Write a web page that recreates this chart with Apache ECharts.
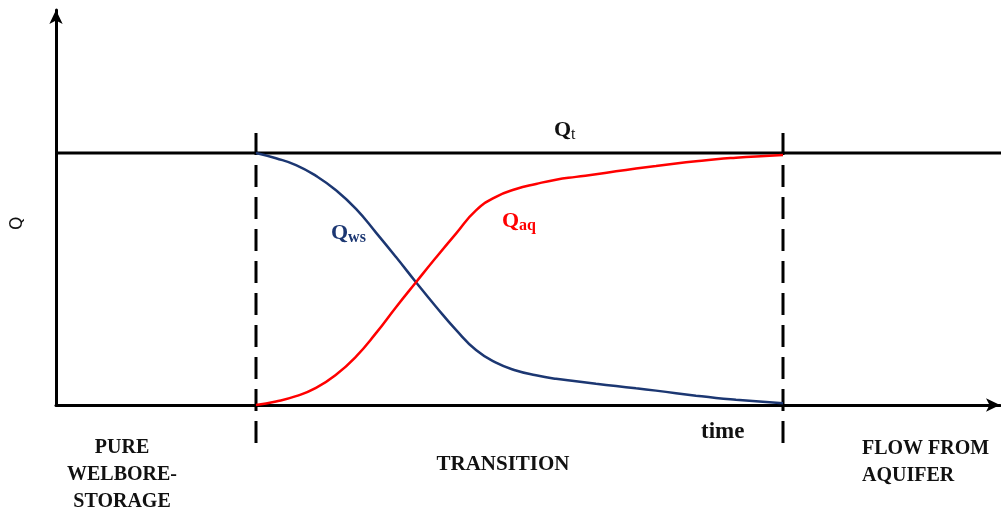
<!DOCTYPE html>
<html>
<head>
<meta charset="utf-8">
<script src="https://cdn.jsdelivr.net/npm/echarts@6/dist/echarts.min.js"></script>
<style>
  html, body { margin: 0; padding: 0; background: #fff; }
  #chart { width: 1001px; height: 510px; }
</style>
</head>
<body>
<div id="chart"></div>
<script>
// sample times across the transition (arbitrary units)
const times = [2.0, 2.2, 2.4, 2.6, 2.8, 3.0, 3.2, 3.4, 3.6, 3.8, 4.0, 4.2, 4.4, 4.6, 4.8, 5.0, 5.2, 5.4, 5.6, 5.8, 6.0, 6.2, 6.4, 6.6, 6.8, 7.0, 7.27]
// welbore-storage rate, falls from Qt to 0
const qws = [1.0, 0.979, 0.952, 0.909, 0.852, 0.778, 0.684, 0.587, 0.487, 0.39, 0.298, 0.218, 0.168, 0.137, 0.118, 0.104, 0.094, 0.084, 0.075, 0.066, 0.057, 0.047, 0.037, 0.028, 0.021, 0.015, 0.007]
// aquifer rate, rises from 0 to Qt
const qaq = [0.0, 0.014, 0.035, 0.068, 0.12, 0.192, 0.285, 0.388, 0.487, 0.585, 0.68, 0.772, 0.826, 0.857, 0.877, 0.894, 0.905, 0.915, 0.927, 0.938, 0.948, 0.958, 0.967, 0.975, 0.981, 0.986, 0.992]
// total rate and the two period boundaries
const qtLine = [[0, 1], [9.45, 1]]
const boundaries = [2.0, 7.27]
const dashRange = [-0.151, 1.119]

const SERIF = '"Liberation Serif", "DejaVu Serif", serif'

const chart = echarts.init(document.getElementById('chart'))

const pair = (xs, ys) => xs.map((x, i) => [x, ys[i]])

const dashSeries = boundaries.map(b => ({
  type: 'line',
  data: [[b, dashRange[0]], [b, dashRange[1]]],
  symbol: 'none',
  clip: false,
  silent: true,
  lineStyle: { color: '#000', width: 3, type: [22, 10] },
  z: 3
}))

const boldText = (x, y, text, extra) => ({
  type: 'text',
  x, y,
  style: Object.assign({
    text,
    font: 'bold 20px ' + SERIF,
    fill: '#111',
    verticalAlign: 'top'
  }, extra || {})
})

const subText = (x, y, main, sub, color, subWeight) => ({
  type: 'text',
  x, y,
  style: {
    text: '{q|' + main + '}{s|' + sub + '}',
    verticalAlign: 'top',
    rich: {
      q: { fontFamily: SERIF, fontWeight: 'bold', fontSize: 22, lineHeight: 24, verticalAlign: 'top', fill: color },
      s: { fontFamily: SERIF, fontWeight: subWeight || 'bold', fontSize: 16, lineHeight: 21, verticalAlign: 'bottom', fill: color }
    }
  }
})

chart.setOption({
  animation: false,
  grid: { left: 56, right: 1, top: 10, bottom: 105 },
  xAxis: {
    type: 'value',
    min: 0,
    max: 9.44,
    axisLine: {
      show: true,
      onZero: false,
      symbol: ['none', 'arrow'],
      symbolSize: [10, 14],
      lineStyle: { color: '#000', width: 3 }
    },
    axisTick: { show: false },
    axisLabel: { show: false },
    splitLine: { show: false }
  },
  yAxis: {
    type: 'value',
    min: 0,
    max: 1.567,
    axisLine: {
      show: true,
      onZero: false,
      symbol: ['none', 'arrow'],
      symbolSize: [10, 14],
      lineStyle: { color: '#000', width: 3 }
    },
    axisTick: { show: false },
    axisLabel: { show: false },
    splitLine: { show: false }
  },
  series: [
    {
      name: 'Qt',
      type: 'line',
      data: qtLine,
      symbol: 'none',
      clip: false,
      lineStyle: { color: '#000', width: 3 },
      z: 2
    },
    {
      name: 'Qws',
      type: 'line',
      data: pair(times, qws),
      smooth: 0.5,
      symbol: 'none',
      lineStyle: { color: '#1c3772', width: 2.5 },
      z: 4
    },
    {
      name: 'Qaq',
      type: 'line',
      data: pair(times, qaq),
      smooth: 0.5,
      symbol: 'none',
      lineStyle: { color: '#ff0000', width: 2.5 },
      z: 4
    }
  ].concat(dashSeries),
  graphic: [
    {
      type: 'text',
      x: 9,
      y: 230,
      rotation: Math.PI / 2,
      style: { text: 'Q', font: '17px "DejaVu Sans", sans-serif', fill: '#111', verticalAlign: 'top' }
    },
    subText(554, 119, 'Q', 't', '#111', 'normal'),
    subText(331, 222, 'Q', 'ws', '#1c3772'),
    subText(502, 210, 'Q', 'aq', '#ff0000'),
    boldText(701, 421, 'time', { font: 'bold 23px ' + SERIF }),
    boldText(122, 434, 'PURE\nWELBORE-\nSTORAGE', { align: 'center', lineHeight: 27 }),
    boldText(503, 454, 'TRANSITION', { align: 'center', font: 'bold 21px ' + SERIF }),
    boldText(862, 435, 'FLOW FROM\nAQUIFER', { lineHeight: 27 })
  ]
})
</script>
</body>
</html>
